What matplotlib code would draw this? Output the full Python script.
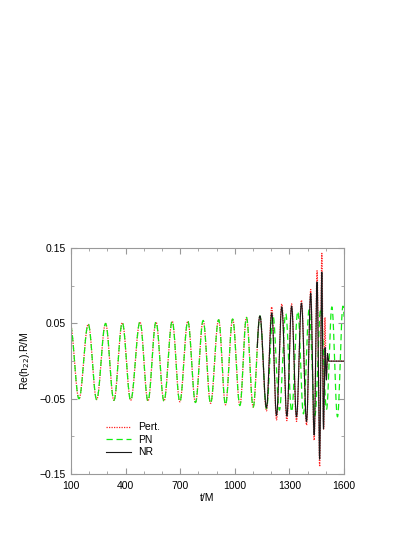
import numpy as np
import matplotlib
matplotlib.use('Agg')
import matplotlib.pyplot as plt

plt.rcParams['font.family'] = ['Liberation Sans', 'DejaVu Sans']

# extrema (t/M, value)
early_t = [95, 144, 195, 241, 290, 336, 382, 428, 479, 523, 567, 611, 656, 698,
           742, 784, 826, 867, 911, 949, 988, 1028, 1064, 1101, 1138]
early_v = [0.050, -0.050, 0.049, -0.051, 0.050, -0.052, 0.051, -0.052, 0.052, -0.053,
           0.052, -0.053, 0.053, -0.054, 0.053, -0.055, 0.054, -0.056, 0.055, -0.058,
           0.056, -0.059, 0.058, -0.061, 0.060]

pert_t = [1174, 1203, 1229, 1258, 1286, 1312, 1339, 1366, 1394, 1417, 1436, 1452,
          1466, 1478, 1488, 1495, 1502, 1510, 1518, 1600]
pert_v = [-0.066, 0.072, -0.078, 0.076, -0.079, 0.076, -0.080, 0.081, -0.085, 0.095,
          -0.105, 0.120, -0.140, 0.143, -0.090, 0.058, -0.020, 0.006, 0.0, 0.0]

pn_t = [1174, 1210, 1245, 1280, 1312, 1346, 1377, 1408, 1440, 1472, 1504, 1533,
        1564, 1594, 1625]
pn_v = [-0.063, 0.060, -0.065, 0.063, -0.067, 0.066, -0.070, 0.068, -0.072, 0.070,
        -0.064, 0.072, -0.074, 0.073, -0.075]

nr_t = [1101, 1138, 1174, 1203, 1229, 1258, 1286, 1312, 1339, 1366, 1394, 1417,
        1436, 1452, 1466, 1478, 1487, 1496, 1503, 1509, 1516, 1600]
nr_v = [-0.061, 0.060, -0.062, 0.064, -0.072, 0.072, -0.073, 0.073, -0.074, 0.077,
        -0.080, 0.090, -0.098, 0.105, -0.130, 0.118, -0.090, 0.018, -0.025, 0.010,
        0.0, 0.0]
nr_start = 1123

xticks = [100, 400, 700, 1000, 1300, 1600]
yticks = [-0.15, -0.05, 0.05, 0.15]
ytick_labels = ['\u22120.15', '\u22120.05', '0.05', '0.15']


def wave(te, ve, n=40):
    # half-cosine segments joining consecutive extrema
    ts, vs = [], []
    for i in range(len(te) - 1):
        s = np.linspace(0, 1, n, endpoint=False)
        ts.append(te[i] + (te[i + 1] - te[i]) * s)
        vs.append(ve[i] + (ve[i + 1] - ve[i]) * (1 - np.cos(np.pi * s)) / 2)
    ts.append([te[-1]])
    vs.append([ve[-1]])
    return np.concatenate(ts), np.concatenate(vs)


t1, v1 = wave(early_t + pert_t, early_v + pert_v)
t2, v2 = wave(early_t + pn_t, early_v + pn_v)
t3, v3 = wave(nr_t, nr_v)
m = t3 >= nr_start
t3, v3 = t3[m], v3[m]

fig = plt.figure(figsize=(4.15, 5.37), dpi=100)
ax = fig.add_axes([0.171, 0.117, 0.658, 0.421])

ax.plot(t1, v1, color='#ff2020', lw=0.9, linestyle=(0, (1, 1)), label='Pert.')
ax.plot(t2, v2, color='#11ee11', lw=0.9, dashes=(5, 3), label='PN')
ax.plot(t3, v3, color='#1a1a1a', lw=0.8, label='NR')

ax.set_xlim(100, 1600)
ax.set_ylim(-0.15, 0.15)
ax.set_xticks(xticks)
ax.set_xticks(np.arange(100, 1601, 100), minor=True)
ax.set_yticks(yticks)
ax.set_yticklabels(ytick_labels)
ax.set_yticks([-0.1, 0.0, 0.1], minor=True)

for sp in ax.spines.values():
    sp.set_color('#999999')
    sp.set_linewidth(0.8)
ax.tick_params(which='both', direction='in', top=True, right=True,
               color='#999999', labelsize=7.5)
ax.tick_params(axis='x', pad=5)
ax.tick_params(axis='y', pad=4)
ax.tick_params(which='major', length=4)
ax.tick_params(which='minor', length=2.5)

ax.set_xlabel('t/M', fontsize=7.5, labelpad=1)
ax.set_ylabel('Re(h$_{22}$).R/M', fontsize=7.5, labelpad=5)

ax.legend(loc='upper left', bbox_to_anchor=(0.13, 0.23), frameon=False,
          fontsize=7.5, borderaxespad=0, borderpad=0, handlelength=2.4,
          handletextpad=0.6, labelspacing=0.25)

fig.savefig('out.png', dpi=100)
